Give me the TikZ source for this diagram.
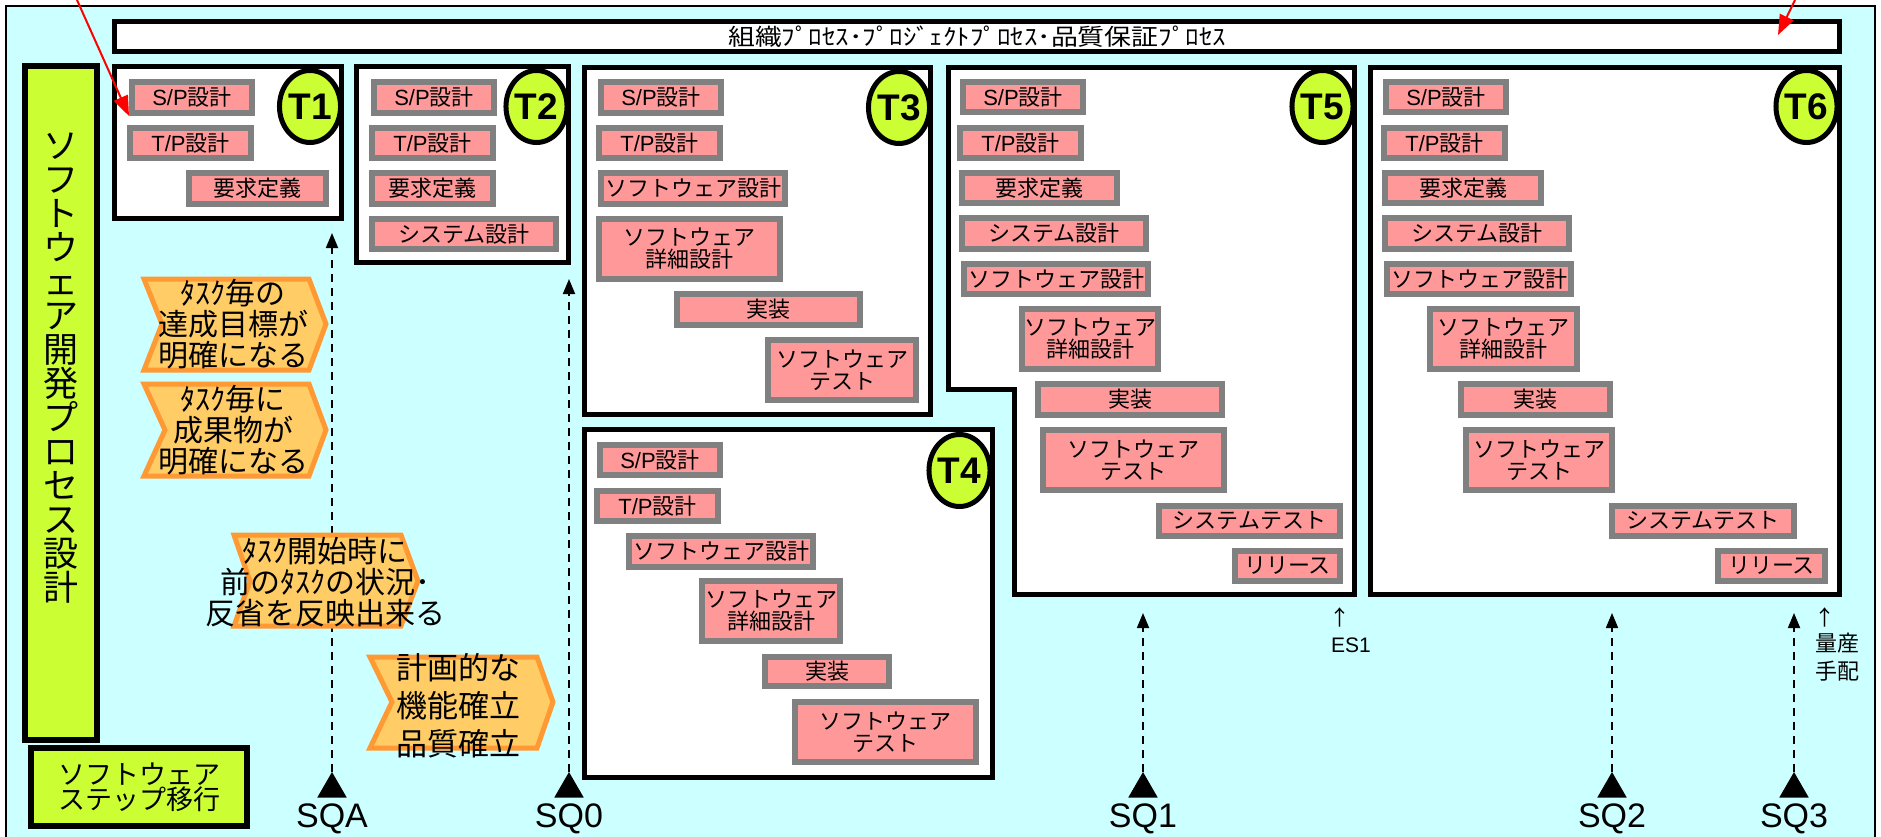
\documentclass[tikz,border=0pt]{standalone}
\usepackage{fontspec}
\setmainfont{Noto Sans CJK JP}
\newfontfamily\lat{Liberation Sans}
\usetikzlibrary{arrows.meta,shapes.geometric}
\definecolor{bgcyan}{HTML}{CCFFFF}
\definecolor{yg}{HTML}{CCFF33}
\definecolor{boxpink}{HTML}{FF9999}
\definecolor{boxgray}{HTML}{808080}
\definecolor{chevfill}{HTML}{FFCC66}
\definecolor{chevline}{HTML}{FF9933}
\definecolor{redline}{HTML}{FF0000}
\newcommand{\pbx}[6]{\node[pbox,minimum width={#4-#2-6},minimum height={#5-#3-6}] (#1) at ({(#2+#4)/2},{(#3+#5)/2}) {#6};}
\newcommand{\frm}[5]{\node[frame,minimum width={#4-#2-5},minimum height={#5-#3-5}] (#1) at ({(#2+#4)/2},{(#3+#5)/2}) {};}
\begin{document}
\begin{tikzpicture}[x=1pt,y=-1pt,
  frame/.style={draw=black,line width=5pt,fill=white,inner sep=0pt},
  pbox/.style={draw=boxgray,line width=6pt,fill=boxpink,inner sep=0pt,align=center,font=\fontsize{22}{22}\selectfont},
  tell/.style={ellipse,draw=black,line width=5pt,fill=yg,inner sep=0pt,minimum width=57pt,minimum height=72pt,font=\lat\bfseries\fontsize{37}{37}\selectfont},
  chev/.style={draw=chevline,fill=chevfill,line width=5pt},
  chevtext/.style={align=center,inner sep=0pt,font=\fontsize{30}{31}\selectfont},
  sqtri/.style={regular polygon,regular polygon sides=3,fill=black,inner sep=0pt,minimum size=34pt},
  sqlabel/.style={font=\lat\fontsize{34}{34}\selectfont,inner sep=0pt,anchor=base},
  dasharrow/.style={draw=black,line width=1.8pt,dash pattern=on 8pt off 6pt,-{Triangle[length=15pt,width=12pt]}},
  redarrow/.style={draw=redline,line width=2pt,-{Triangle[length=20pt,width=15pt]}},
  greenbox/.style={draw=black,line width=6pt,fill=yg,inner sep=0pt}
]
\useasboundingbox (0,0) rectangle (1881,837);
\fill[white] (0,0) rectangle (1881,837);
\fill[bgcyan] (6,6) rectangle (1875,837);
\draw[line width=2pt] (6,840) -- (6,6) -- (1875,6) -- (1875,840);

% left vertical bar and step box
\node[greenbox,minimum width=72pt,minimum height=674pt] (lbar) at (61,403) {};
\node[align=center,inner sep=0pt,font=\fontsize{35}{34}\selectfont] (vtxt) at (61,368)
  {ソ\\フ\\ト\\ウ\\ェ\\ア\\開\\発\\プ\\ロ\\セ\\ス\\設\\計};
\node[greenbox,minimum width=216pt,minimum height=78pt,align=center,font=\fontsize{27}{25}\selectfont] (stepbox) at (139,787) {ソフトウェア\\ステップ移行};

% SQ markers and dashed arrows
\node[sqtri] (tA) at (332,789) {};
\node[sqtri] (t0) at (569,789) {};
\node[sqtri] (t1) at (1143,789) {};
\node[sqtri] (t2) at (1612,789) {};
\node[sqtri] (t3) at (1794,789) {};
\node[sqlabel] (lA) at (332,827) {SQA};
\node[sqlabel] (l0) at (569,827) {SQ0};
\node[sqlabel] (l1) at (1143,827) {SQ1};
\node[sqlabel] (l2) at (1612,827) {SQ2};
\node[sqlabel] (l3) at (1794,827) {SQ3};
\coordinate (cA) at (332,233);
\coordinate (c0) at (569,279);
\coordinate (c1) at (1143,613);
\coordinate (c2) at (1612,613);
\coordinate (c3) at (1794,613);
\draw[dasharrow] (tA.corner 1) -- (cA);
\draw[dasharrow] (t0.corner 1) -- (c0);
\draw[dasharrow] (t1.corner 1) -- (c1);
\draw[dasharrow] (t2.corner 1) -- (c2);
\draw[dasharrow] (t3.corner 1) -- (c3);

% ES1 and mass production
\node[inner sep=0pt,font=\fontsize{21}{21}\selectfont] (es1arr) at (1340,617) {↑};
\node[inner sep=0pt,anchor=base,font=\lat\fontsize{21}{21}\selectfont] (es1) at (1351,652) {ES1};
\node[inner sep=0pt,font=\fontsize{21}{21}\selectfont] (mparr) at (1825,617) {↑};
\node[inner sep=0pt,anchor=north,align=center,font=\fontsize{22}{28}\selectfont] (mp) at (1837,633) {量産\\手配};

% banner
\frm{banner}{112}{19}{1842}{54}
\node[inner sep=0pt,font=\fontsize{23}{23}\selectfont] (bantxt) at (977,37) {\scalebox{1.17}[1]{組織ﾌﾟﾛｾｽ･ﾌﾟﾛｼﾞｪｸﾄﾌﾟﾛｾｽ･品質保証ﾌﾟﾛｾｽ}};

% frames
\frm{f1}{112}{64}{344}{221}
\frm{f2}{354}{64}{571}{265}
\frm{f3}{582}{65}{933}{417}
\frm{f4}{582}{427}{995}{780}
\draw[frame] (948.5,67.5) -- (1354.5,67.5) -- (1354.5,594.5) -- (1014.5,594.5) -- (1014.5,389.5) -- (948.5,389.5) -- cycle;
\frm{f6}{1368}{65}{1842}{597}

% T1
\pbx{t1a}{129}{79}{255}{116}{{\lat S/P}設計}
\pbx{t1b}{127}{125}{254}{161}{{\lat T/P}設計}
\pbx{t1c}{186}{170}{329}{207}{要求定義}
% T2
\pbx{t2a}{371}{79}{497}{116}{{\lat S/P}設計}
\pbx{t2b}{369}{125}{496}{161}{{\lat T/P}設計}
\pbx{t2c}{369}{170}{496}{207}{要求定義}
\pbx{t2d}{369}{216}{559}{252}{システム設計}
% T3
\pbx{t3a}{598}{79}{724}{116}{{\lat S/P}設計}
\pbx{t3b}{596}{125}{723}{161}{{\lat T/P}設計}
\pbx{t3c}{598}{170}{788}{207}{ソフトウェア設計}
\pbx{t3d}{596}{216}{783}{282}{ソフトウェア\\詳細設計}
\pbx{t3e}{674}{291}{863}{328}{実装}
\pbx{t3f}{765}{337}{919}{403}{ソフトウェア\\テスト}
% T4
\pbx{t4a}{597}{442}{723}{478}{{\lat S/P}設計}
\pbx{t4b}{594}{488}{721}{524}{{\lat T/P}設計}
\pbx{t4c}{626}{533}{816}{570}{ソフトウェア設計}
\pbx{t4d}{699}{578}{843}{644}{ソフトウェア\\詳細設計}
\pbx{t4e}{762}{654}{892}{689}{実装}
\pbx{t4f}{792}{699}{979}{765}{ソフトウェア\\テスト}
% T5
\pbx{t5a}{960}{79}{1086}{115}{{\lat S/P}設計}
\pbx{t5b}{957}{125}{1084}{161}{{\lat T/P}設計}
\pbx{t5c}{959}{170}{1120}{206}{要求定義}
\pbx{t5d}{959}{215}{1149}{252}{システム設計}
\pbx{t5e}{961}{261}{1151}{297}{ソフトウェア設計}
\pbx{t5f}{1019}{306}{1161}{372}{ソフトウェア\\詳細設計}
\pbx{t5g}{1035}{381}{1225}{418}{実装}
\pbx{t5h}{1040}{427}{1227}{493}{ソフトウェア\\テスト}
\pbx{t5i}{1156}{503}{1343}{539}{システムテスト}
\pbx{t5j}{1232}{548}{1343}{584}{リリース}
% T6
\pbx{t6a}{1383}{79}{1509}{115}{{\lat S/P}設計}
\pbx{t6b}{1381}{125}{1508}{161}{{\lat T/P}設計}
\pbx{t6c}{1382}{170}{1544}{206}{要求定義}
\pbx{t6d}{1382}{215}{1572}{252}{システム設計}
\pbx{t6e}{1384}{261}{1574}{297}{ソフトウェア設計}
\pbx{t6f}{1427}{306}{1580}{372}{ソフトウェア\\詳細設計}
\pbx{t6g}{1458}{381}{1613}{418}{実装}
\pbx{t6h}{1463}{427}{1615}{493}{ソフトウェア\\テスト}
\pbx{t6i}{1609}{503}{1797}{539}{システムテスト}
\pbx{t6j}{1715}{548}{1828}{584}{リリース}

% ellipses
\node[tell] (e1) at (310,106.5) {T1};
\node[tell] (e2) at (536.5,106.5) {T2};
\node[tell] (e3) at (899,107.5) {T3};
\node[tell] (e4) at (959.5,470.5) {T4};
\node[tell] (e5) at (1322.5,106.5) {T5};
\node[tell] (e6) at (1806.5,106.5) {T6};

% chevrons
\draw[chev] (144,279) -- (309,279) -- (326,324) -- (309,370) -- (144,370) -- (162,324) -- cycle;
\node[chevtext] (ch1) at (233,324) {ﾀｽｸ毎の\\達成目標が\\明確になる};
\draw[chev] (144,384) -- (309,384) -- (326,430) -- (309,476) -- (144,476) -- (165,430) -- cycle;
\node[chevtext] (ch2) at (233,430) {ﾀｽｸ毎に\\成果物が\\明確になる};
\draw[chev] (234,535) -- (401,535) -- (418,581) -- (401,626) -- (234,626) -- (250,581) -- cycle;
\node[chevtext] (ch3) at (325,582) {ﾀｽｸ開始時に\\前のﾀｽｸの状況･\\反省を反映出来る};
\draw[chev] (370,657) -- (537,657) -- (553,702) -- (537,748) -- (370,748) -- (392,702) -- cycle;
\node[chevtext,font=\fontsize{31}{38}\selectfont] (ch4) at (458,706) {計画的な\\機能確立\\品質確立};

% red pointers
\coordinate (rl0) at (77,0);
\coordinate (rr0) at (1795,0);
\coordinate (rr1) at (1778,35);
\draw[redarrow] (rl0) -- (t1a.south west);
\draw[redarrow] (rr0) -- (rr1);
\end{tikzpicture}
\end{document}
